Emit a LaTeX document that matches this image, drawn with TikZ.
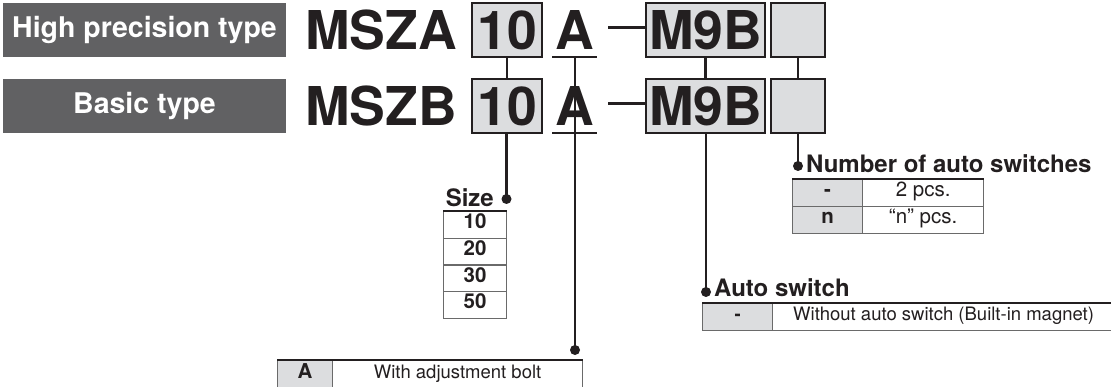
\documentclass[tikz,border=0pt]{standalone}
\usepackage{fontspec}
\setmainfont{TeX Gyre Heros}
\definecolor{bannergray}{HTML}{616163}
\definecolor{boxfill}{HTML}{DCDDDF}
\definecolor{rulegray}{HTML}{6A6A6A}
\definecolor{ink}{HTML}{231F20}
\tikzset{
  banner/.style={fill=bannergray, text=white, minimum width=283pt, minimum height=54pt, inner sep=0pt,
    font=\fontsize{28.5}{30}\selectfont\bfseries},
  bigtext/.style={inner sep=0pt, text=ink, font=\fontsize{53.5}{54}\selectfont\bfseries},
  codebox/.style={draw=ink, line width=2.5pt, fill=boxfill, inner sep=0pt, minimum height=54pt,
    text=ink, font=\fontsize{53.5}{54}\selectfont\bfseries},
  conn/.style={draw=ink, line width=2.2pt},
  dotmark/.style={fill=ink},
  label/.style={inner sep=0pt, text=ink, font=\fontsize{24}{24}\selectfont\bfseries},
  cell/.style={draw=rulegray, line width=1.2pt, inner sep=0pt, anchor=north west,
    text height=0.72em, text depth=0pt, text=ink},
  graycell/.style={cell, fill=boxfill, font=\fontsize{18.5}{19}\selectfont\bfseries},
  whitecell/.style={cell, fill=white, font=\fontsize{18.5}{19}\selectfont},
  numgray/.style={graycell, font=\fontsize{20.5}{21}\selectfont\bfseries},
  numwhite/.style={whitecell, font=\fontsize{20.5}{21}\selectfont},
  sizecell/.style={cell, fill=white, minimum width=63pt, minimum height=26.75pt, font=\fontsize{20.5}{21}\selectfont\bfseries},
  topline/.style={draw=ink, line width=2pt},
}
\begin{document}
\begin{tikzpicture}[x=1pt, y=-1pt]
\clip (0,0) rectangle (1111,387);
\fill[white] (0,0) rectangle (1111,387);

% banners
\node[banner] (b1) at (144.5,30) {High precision type};
\node[banner] (b2) at (144.5,106) {Basic type};

% code rows
\foreach \r/\dy/\s in {1/0/A, 2/76/B}{
  \node[bigtext, anchor=base west] (ms-\r) at (305,50+\dy) {MSZ\s};
  \node[codebox, minimum width=70pt] (c10-\r) at (507,30+\dy) {10};
  \node[bigtext, anchor=base] (a-\r) at (575,50+\dy) {A};
  \coordinate (ul-\r) at (575,57+\dy);
  \coordinate (at-\r) at (575,79+\dy);
  \draw[draw=ink, line width=2.5pt] (552,57+\dy) -- (597,57+\dy);
  \draw[draw=ink, line width=3pt] (608,28+\dy) -- (645,28+\dy);
  \node[codebox, minimum width=119pt] (m9b-\r) at (705.5,30+\dy) {M9B};
  \node[codebox, minimum width=54pt] (e-\r) at (798,30+\dy) {};
}

% links between rows
\draw[conn] (c10-1) -- (c10-2);
\draw[conn] (ul-1) -- (at-2);
\draw[conn] (m9b-1.south) -- (m9b-2.north);
\draw[conn] (e-1) -- (e-2);

% dots
\coordinate (dsize) at (506.5,199);
\coordinate (dA) at (575,350);
\coordinate (dauto) at (706,292);
\coordinate (dnum) at (798,166);

\draw[conn] (c10-2.south -| dsize) -- (dsize);
\draw[conn] (ul-2) -- (dA);
\draw[conn] (m9b-2.south -| dauto) -- (dauto);
\draw[conn] (e-2.south) -- (dnum);
\foreach \d in {dsize,dA,dauto,dnum}{ \fill[dotmark] (\d) circle (5pt); }

% Size table
\node[label, anchor=base east] (lsize) at (494,207) {Size};
\node[sizecell] (s1) at (443,211) {10};
\node[sizecell] (s2) at (443,237.75) {20};
\node[sizecell] (s3) at (443,264.5) {30};
\node[sizecell] (s4) at (443,291.25) {50};
\draw[topline] (s1.north west) -- (s1.north east);

% Number of auto switches
\node[label, anchor=base west] (lnum) at (806,173) {Number of auto switches};
\node[numgray, minimum width=70pt, minimum height=27pt] (n11) at (792,179) {-};
\node[numwhite, minimum width=121pt, minimum height=27pt] (n12) at (862,179) {2 pcs.};
\node[numgray, minimum width=70pt, minimum height=27pt] (n21) at (792,206) {n};
\node[numwhite, minimum width=121pt, minimum height=27pt] (n22) at (862,206) {“n” pcs.};
\draw[topline] (n11.north west) -- (n12.north east);

% Auto switch
\node[label, anchor=base west] (lauto) at (714,297) {Auto switch};
\node[graycell, minimum width=70pt, minimum height=27pt] (w11) at (702,303) {-};
\node[whitecell, minimum width=342pt, minimum height=27pt] (w12) at (772,303) {Without auto switch (Built-in magnet)};
\draw[topline] (w11.north west) -- (w12.north east);

% A table
\node[graycell, minimum width=55pt, minimum height=29pt, font=\fontsize{20.5}{21}\selectfont\bfseries] (t11) at (277,360) {A};
\node[whitecell, minimum width=250pt, minimum height=29pt] (t12) at (332,360) {With adjustment bolt};
\draw[topline] (t11.north west) -- (t12.north east);
\end{tikzpicture}
\end{document}
